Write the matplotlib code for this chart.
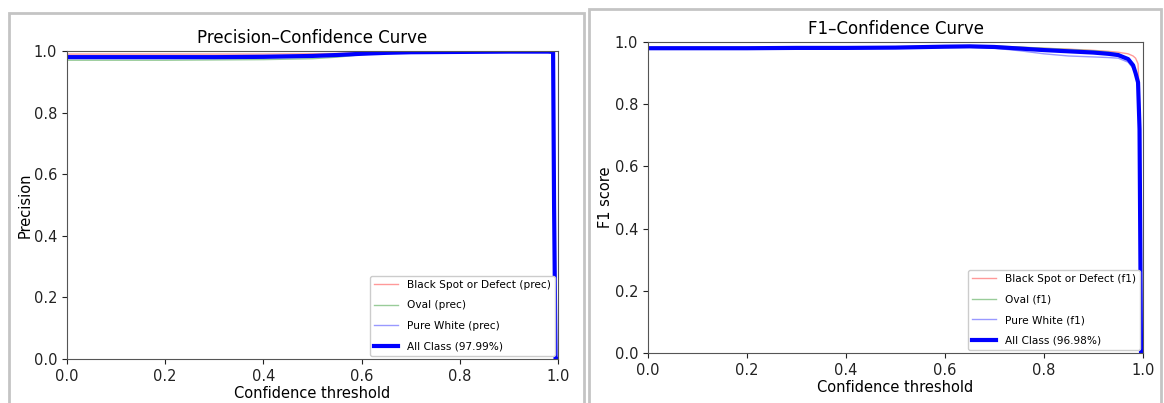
import matplotlib
matplotlib.use("Agg")
import matplotlib.pyplot as plt
from matplotlib.patches import Rectangle

# ---- data ----
conf = [0.0, 0.1, 0.2, 0.3, 0.4, 0.5, 0.55, 0.6, 0.65, 0.7, 0.8, 0.9, 0.95, 0.98, 0.99, 0.992, 0.995, 1.0]

prec_black = [0.990, 0.990, 0.990, 0.990, 0.990, 0.991, 0.992, 0.994, 0.996, 0.997, 0.998, 0.998, 0.998, 0.998, 0.998, 0.5, 0.0, 0.0]
prec_oval  = [0.970, 0.970, 0.970, 0.971, 0.972, 0.975, 0.980, 0.988, 0.993, 0.995, 0.997, 0.998, 0.998, 0.998, 0.998, 0.5, 0.0, 0.0]
prec_white = [0.985, 0.985, 0.985, 0.985, 0.986, 0.987, 0.989, 0.992, 0.995, 0.996, 0.997, 0.998, 0.998, 0.998, 0.998, 0.5, 0.0, 0.0]
prec_all   = [0.980, 0.980, 0.980, 0.980, 0.981, 0.984, 0.987, 0.991, 0.994, 0.996, 0.997, 0.998, 0.998, 0.998, 0.997, 0.5, 0.0, 0.0]

f1_conf = [0.0, 0.1, 0.2, 0.3, 0.4, 0.5, 0.6, 0.65, 0.7, 0.75, 0.8, 0.85, 0.9, 0.93, 0.95, 0.97, 0.98, 0.985, 0.99, 0.993, 0.996, 1.0]
f1_black = [0.982, 0.982, 0.982, 0.983, 0.983, 0.984, 0.986, 0.987, 0.986, 0.983, 0.980, 0.977, 0.973, 0.970, 0.967, 0.962, 0.955, 0.948, 0.93, 0.80, 0.0, 0.0]
f1_oval  = [0.983, 0.983, 0.983, 0.983, 0.984, 0.985, 0.987, 0.988, 0.987, 0.984, 0.980, 0.976, 0.972, 0.968, 0.962, 0.945, 0.925, 0.90, 0.86, 0.70, 0.0, 0.0]
f1_white = [0.978, 0.978, 0.978, 0.979, 0.979, 0.980, 0.982, 0.983, 0.980, 0.972, 0.962, 0.955, 0.952, 0.950, 0.948, 0.935, 0.915, 0.895, 0.86, 0.70, 0.0, 0.0]
f1_all   = [0.980, 0.980, 0.980, 0.981, 0.981, 0.982, 0.985, 0.986, 0.984, 0.979, 0.974, 0.970, 0.966, 0.962, 0.958, 0.945, 0.925, 0.90, 0.87, 0.72, 0.0, 0.0]

ticks = [0.0, 0.2, 0.4, 0.6, 0.8, 1.0]

fig = plt.figure(figsize=(11.64, 4.03), dpi=100)

# screenshot panel borders
fig.patches.append(Rectangle((9/1164, -0.05), (584-9)/1164, 1.05 - 13/403,
                             transform=fig.transFigure, fill=False, edgecolor="#c4c4c4", lw=2))
fig.patches.append(Rectangle((589/1164, -0.05), (1161-589)/1164, 1.05 - 9/403,
                             transform=fig.transFigure, fill=False, edgecolor="#c4c4c4", lw=2))

def px(x0, x1, ytop, ybot):
    return [x0/1164, 1 - ybot/403, (x1-x0)/1164, (ybot-ytop)/403]

ax1 = fig.add_axes(px(67, 558, 51, 359))
ax2 = fig.add_axes(px(648, 1143, 42, 353))

for ax in (ax1, ax2):
    ax.set_xlim(0, 1)
    ax.set_ylim(0, 1)
    ax.set_xticks(ticks)
    ax.set_yticks(ticks)
    ax.tick_params(labelsize=10.5, colors="#222222")
    for s in ax.spines.values():
        s.set_color("#555555")

leg_kw = dict(loc="lower right", fontsize=7.6, framealpha=1, labelspacing=1.0,
              borderaxespad=0.3, handlelength=2.3)

ax1.plot(conf, prec_black, color="#ff8080", lw=1, alpha=0.8, label="Black Spot or Defect (prec)")
ax1.plot(conf, prec_oval, color="#80c080", lw=1, alpha=0.8, label="Oval (prec)")
ax1.plot(conf, prec_white, color="#8080ff", lw=1, alpha=0.8, label="Pure White (prec)")
ax1.plot(conf, prec_all, color="blue", lw=3, label="All Class (97.99%)")
ax1.set_title("Precision\u2013Confidence Curve", fontsize=12)
ax1.set_xlabel("Confidence threshold", fontsize=10.5, labelpad=2)
ax1.set_ylabel("Precision", fontsize=10.5, labelpad=1)
ax1.legend(**leg_kw)

ax2.plot(f1_conf, f1_black, color="#ff8080", lw=1, alpha=0.8, label="Black Spot or Defect (f1)")
ax2.plot(f1_conf, f1_oval, color="#80c080", lw=1, alpha=0.8, label="Oval (f1)")
ax2.plot(f1_conf, f1_white, color="#8080ff", lw=1, alpha=0.8, label="Pure White (f1)")
ax2.plot(f1_conf, f1_all, color="blue", lw=3, label="All Class (96.98%)")
ax2.set_title("F1\u2013Confidence Curve", fontsize=12)
ax2.set_xlabel("Confidence threshold", fontsize=10.5, labelpad=2)
ax2.set_ylabel("F1 score", fontsize=10.5, labelpad=1)
ax2.legend(**leg_kw)

fig.savefig("out.png", dpi=100)
